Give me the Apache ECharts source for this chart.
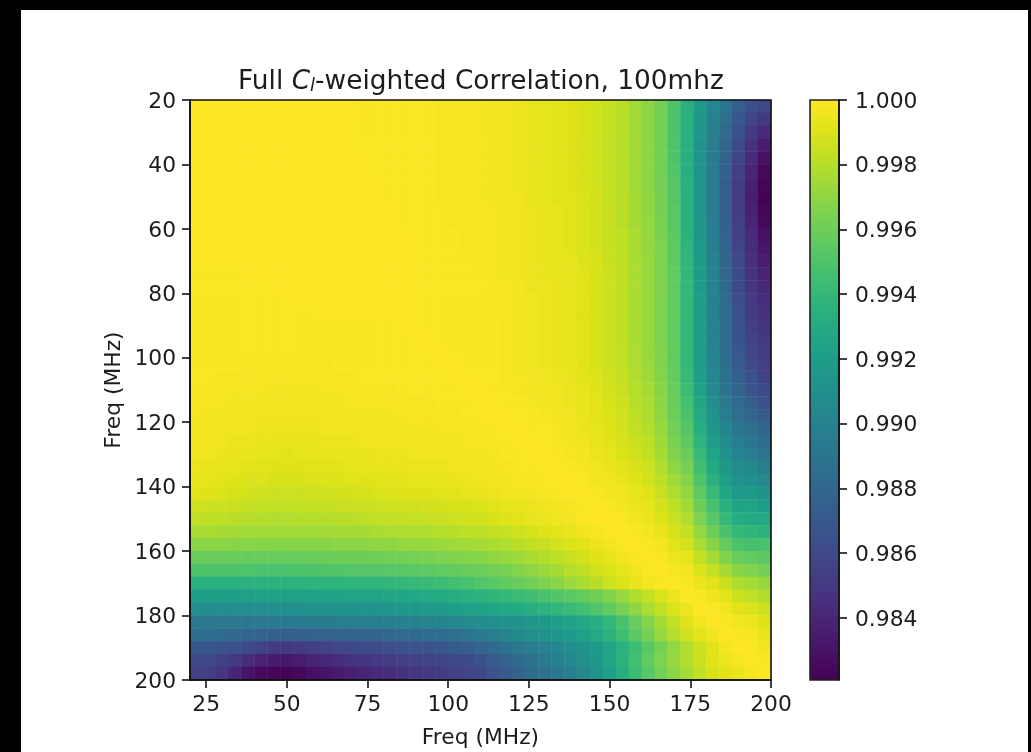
<!DOCTYPE html>
<html><head><meta charset="utf-8">
<script src="https://cdn.jsdelivr.net/npm/echarts@6/dist/echarts.min.js"></script>
<style>html,body{margin:0;padding:0;background:#fff}#c{width:1031px;height:752px}</style>
</head><body><div id="c"></div>
<script>
const freqs = [22,26,30,34,38,42,46,50,54,58,62,66,70,74,78,82,86,90,94,98,102,106,110,114,118,122,126,130,134,138,142,146,150,154,158,162,166,170,174,178,182,186,190,194,198];
const xTicks = [25,50,75,100,125,150,175,200];
const yTicks = [20,40,60,80,100,120,140,160,180,200];
const barTicks = [0.984,0.986,0.988,0.990,0.992,0.994,0.996,0.998,1.000];
const colorMin = 0.98208, colorMax = 1.0;
// Correlation shortfall from 1, in units of 1e-4.
// upperColumns[j][i]: column at freqs[j], rows freqs[0..j]. Empty tail means 0.
const upperColumns = [
[],[],[],[],[],[],[],[],[],[],[],[],[],
[1,1,1,1],
[1,1,1,1,1,1],
[1,1,1,1,1,1,1,1],
[1,1,1,1,1,1,1,1,1,1],
[1,1,1,1,1,1,1,1,1,1,1,1,1,1,1,1,1,0],
[1,1,1,1,1,1,1,1,1,1,1,1,1,1,1,1,1,1,0],
[2,2,2,2,2,2,2,2,1,1,1,1,1,1,1,1,1,1,1,0],
[2,2,2,2,2,2,2,2,2,2,1,1,1,1,1,1,1,1,1,1,0],
[2,2,2,2,2,2,2,2,2,2,2,2,1,1,1,1,1,1,1,1,1,0],
[2,2,2,2,2,2,2,2,2,2,2,2,2,1,1,1,1,1,1,1,1,1,0],
[3,3,3,3,3,3,3,3,2,2,2,2,2,2,2,2,2,1,1,1,1,1,1,0],
[4,4,4,4,4,4,3,3,3,3,3,3,3,3,2,2,2,2,2,2,2,2,1,1,0],
[5,5,5,5,5,5,5,4,4,4,4,4,4,4,3,3,3,3,3,3,3,2,2,1,1,0],
[6,6,6,6,6,6,6,6,5,5,5,5,5,5,5,4,4,4,4,4,4,3,3,2,1,1,0],
[7,7,7,7,7,7,7,7,6,6,6,6,6,6,5,5,5,5,5,5,5,4,3,3,2,1,1,0],
[8,8,8,8,8,8,8,8,7,7,7,7,7,6,6,6,6,6,6,6,6,5,4,4,3,2,2,1,0],
[9,9,9,9,9,9,9,8,8,8,8,8,7,7,7,7,7,7,7,7,6,6,5,5,4,3,3,2,1,0],
[11,11,11,11,11,11,11,10,10,10,10,10,10,9,9,9,9,9,9,9,9,8,7,6,6,5,4,3,2,1,0],
[13,13,13,13,13,13,13,12,12,12,12,12,11,11,11,11,11,11,11,11,11,10,9,8,8,7,6,5,4,3,1,0],
[16,16,16,16,16,16,16,16,15,15,15,15,15,14,14,14,14,14,14,14,14,13,12,11,10,9,8,7,6,4,3,1,0],
[20,20,20,20,20,20,19,19,19,19,18,18,18,18,18,18,18,18,18,17,17,16,15,14,13,12,11,10,8,6,4,3,1,0],
[25,25,25,25,25,25,25,24,24,24,23,23,23,23,23,23,23,23,23,22,22,21,20,19,18,17,15,13,11,9,7,5,3,1,0],
[31,31,31,31,31,31,31,30,30,29,29,29,28,28,28,28,28,28,28,28,27,26,24,23,22,20,18,16,14,12,9,7,5,3,1,0],
[38,38,38,38,38,38,38,37,37,36,36,35,35,35,35,35,35,35,35,34,34,33,32,31,30,28,26,24,21,18,15,12,9,6,3,1,0],
[50,50,50,50,50,49,48,48,47,47,46,45,45,44,44,44,44,44,44,44,44,43,42,41,40,38,36,34,30,26,22,18,15,11,8,5,2,0],
[66,66,66,66,67,67,66,66,66,65,64,63,62,61,60,60,60,60,60,60,60,59,57,54,51,48,45,41,37,33,29,25,21,16,12,7,3,1,0],
[82,84,85,86,86,86,86,86,86,85,84,83,82,81,81,80,80,80,80,80,80,79,77,74,71,67,63,59,55,50,45,40,35,29,23,16,10,5,1,0],
[97,100,102,104,105,105,105,105,105,104,103,102,101,100,100,99,99,99,99,98,98,97,95,92,88,84,80,75,70,65,59,53,47,40,32,24,16,9,4,1,0],
[110,114,118,121,123,125,126,126,126,125,124,122,121,120,119,118,117,116,116,116,115,113,111,107,103,98,94,89,84,79,73,66,59,52,43,34,24,15,8,4,1,0],
[126,131,135,139,143,146,147,147,147,146,145,143,141,139,138,137,135,134,133,131,128,125,122,118,114,109,104,98,94,89,83,76,68,60,51,42,32,22,14,8,4,1,0],
[135,143,149,154,158,161,163,164,163,161,158,156,155,153,151,149,148,146,144,142,138,135,132,126,120,114,109,103,96,90,82,75,70,62,53,44,34,25,17,10,5,2,1,0],
[140,150,158,165,171,175,177,178,177,175,171,168,165,162,159,156,154,152,150,148,146,144,141,135,128,122,116,110,102,96,88,80,72,64,52,46,38,28,21,14,9,6,3,1,0]
];
// lowerRows[i][j]: row at freqs[i], columns freqs[0..i-1]. Empty tail means 0.
const lowerRows = [
[],[],[],[],[],[],[],[],[],[],[],[],[],
[1,1,1,1],
[1,1,1,1,1,1],
[1,1,1,1,1,1,1,1],
[1,1,1,1,1,1,1,1,1,1],
[1,1,1,1,1,1,1,1,1,1,1,1,1,1,1,1],
[1,1,1,1,1,1,1,1,1,1,1,1,1,1,1,1,1,0],
[1,1,1,1,1,1,1,1,1,1,1,1,1,1,1,1,1,1,0],
[1,1,1,1,2,2,2,2,2,2,2,1,1,1,1,1,1,1,1,0],
[1,1,2,2,2,2,2,2,2,2,2,2,2,1,1,1,1,1,1,1,0],
[2,2,2,2,2,2,3,3,3,3,2,2,2,2,2,2,1,1,1,1,1,0],
[2,2,2,3,3,3,3,3,3,3,3,3,2,2,2,2,2,2,2,1,1,1,0],
[2,3,3,3,4,4,4,4,4,4,4,3,3,3,3,3,2,2,2,2,2,1,1,0],
[3,3,3,4,4,5,5,5,5,5,4,4,4,4,3,3,3,3,3,2,2,2,1,1,0],
[3,4,4,5,5,6,6,6,6,6,5,5,5,4,4,4,4,3,3,3,3,2,2,1,1,0],
[4,4,5,6,6,7,7,8,7,7,7,6,6,6,5,5,5,4,4,4,3,3,3,2,1,1,0],
[5,6,6,7,8,8,9,9,9,8,8,8,7,7,6,6,6,5,5,5,4,4,3,3,2,1,1,0],
[6,7,8,9,10,10,11,11,11,10,10,10,9,9,8,8,8,7,7,6,6,5,4,4,3,2,2,1,0],
[8,9,10,11,12,13,14,14,14,13,13,12,12,11,10,10,9,9,9,8,8,7,6,5,4,3,3,2,1,0],
[13,14,14,15,16,16,17,17,16,16,16,15,15,14,14,13,13,13,12,12,11,11,10,8,7,6,5,4,3,2,1],
[17,18,18,19,20,20,21,21,20,20,20,19,19,18,17,17,16,16,15,15,14,13,13,11,9,8,6,5,4,3,1,0],
[23,23,24,24,25,25,25,25,25,25,25,24,24,24,23,22,22,21,21,20,19,18,18,16,15,13,11,9,8,6,4,2,1],
[31,31,31,32,32,32,33,33,32,32,32,31,31,31,30,30,29,28,28,27,26,25,24,23,21,19,17,15,12,10,8,5,3,1],
[41,41,41,41,42,42,42,42,41,41,41,40,40,40,39,38,38,37,36,35,34,33,32,30,28,26,23,20,18,15,12,9,7,4,1],
[50,50,50,50,50,51,51,51,50,50,49,49,48,48,48,47,47,46,45,44,43,41,40,38,36,33,30,27,24,20,17,13,10,7,4,1],
[66,66,66,66,65,65,65,64,64,63,63,63,62,62,62,61,60,59,58,56,54,52,49,47,44,41,38,35,31,27,23,19,14,10,6,3,1],
[79,79,79,79,79,78,78,77,77,77,76,76,75,75,75,74,73,72,71,70,68,66,64,62,60,58,55,52,49,46,43,39,34,28,22,16,10,5],
[92,92,92,91,91,91,90,90,90,89,89,88,88,88,87,86,85,84,83,82,80,78,76,74,72,70,67,64,61,58,54,49,44,37,30,23,16,10,5],
[107,107,107,107,107,107,106,106,106,105,105,104,104,103,103,102,101,100,99,98,96,94,92,91,89,87,85,82,79,76,72,67,61,52,42,33,24,16,9,4],
[115,116,117,119,121,123,125,126,125,124,123,122,121,121,120,119,118,117,116,115,113,110,106,102,98,94,91,88,85,81,77,71,64,55,46,37,28,20,13,8,4],
[130,131,133,136,140,144,148,150,148,146,144,142,140,139,138,137,135,134,133,132,129,126,122,117,112,107,104,100,97,92,88,82,75,65,56,46,37,29,21,14,8,3],
[140,141,145,150,157,162,166,168,165,162,159,156,153,151,149,148,146,145,144,143,140,138,135,129,123,117,111,106,101,96,91,84,74,64,54,44,35,28,21,15,9,5,2],
[144,146,152,160,169,174,177,178,175,172,169,166,163,160,158,156,154,152,150,148,145,143,140,134,128,122,116,112,107,102,96,88,78,68,57,47,38,31,24,17,11,8,5,2]
];
const viridis = ['#440154','#471365','#482475','#463480','#414487','#3b528b','#355f8d','#2f6c8e','#2a788e','#25848e','#21918c','#1e9c89','#22a884','#2fb47c','#44bf70','#5ec962','#7ad151','#9bd93c','#bddf26','#dfe318','#fde725'];

const cells = [];
freqs.forEach((_, i) => freqs.forEach((_, j) => {
  const raw = j >= i ? upperColumns[j][i] : lowerRows[i][j];
  cells.push([j, i, 1 - (raw ?? 0) / 10000]);
}));
const font = 'DejaVu Sans';
const ink = '#1c1c1c';
const lineStyle = {color:'#111', width:1.6};
const tickStyle = {show:true, length:8, lineStyle};
const labelStyle = {fontFamily:font, fontSize:21.8, color:ink};
const plotRect = {left:190, top:100, width:581, height:580, outerBoundsMode:'none'};
const chart = echarts.init(document.getElementById('c'), null, {renderer:'canvas'});
chart.setOption({
  animation:false,
  backgroundColor:'#fff',
  title:{
    left:476, top:64, textAlign:'center',
    text:'Full {i|C}{s|l}-weighted Correlation, 100mhz',
    textStyle:{fontFamily:font, fontSize:26.4, fontWeight:'normal', color:ink,
      rich:{
        i:{fontFamily:font, fontStyle:'italic', fontSize:26.4, color:ink},
        s:{fontFamily:font, fontStyle:'italic', fontSize:18, color:ink, verticalAlign:'bottom', padding:[8,0,0,0]}
      }}
  },
  grid:[
    Object.assign({show:true, backgroundColor:'transparent', borderColor:'#111', borderWidth:1.6, z:6}, plotRect),
    {left:810, top:100, width:29, height:580, outerBoundsMode:'none', show:true, backgroundColor:'transparent', borderColor:'#222', borderWidth:1.6, z:6},
    Object.assign({show:false}, plotRect),
    Object.assign({show:false}, plotRect)
  ],
  xAxis:[
    {type:'category', gridIndex:0, data:freqs, show:false},
    {type:'value', gridIndex:2, min:20, max:200, position:'bottom', z:7, splitLine:{show:false},
     axisLine:{show:true, onZero:false, lineStyle}, axisTick:Object.assign({customValues:xTicks}, tickStyle),
     axisLabel:Object.assign({customValues:xTicks, margin:14}, labelStyle)},
    {type:'value', gridIndex:1, show:false, min:0, max:1},
    {type:'value', gridIndex:3, min:20, max:200, position:'bottom', splitLine:{show:false},
     axisLine:{show:false}, axisTick:{show:false}, axisLabel:{show:false},
     name:'Freq (MHz)', nameLocation:'middle', nameGap:47, nameTextStyle:labelStyle}
  ],
  yAxis:[
    {type:'category', gridIndex:0, data:freqs, inverse:true, show:false},
    {type:'value', gridIndex:2, min:20, max:200, inverse:true, position:'left', z:7, splitLine:{show:false},
     axisLine:{show:true, onZero:false, lineStyle}, axisTick:Object.assign({customValues:yTicks}, tickStyle),
     axisLabel:Object.assign({customValues:yTicks, margin:14, verticalAlign:'top', lineHeight:4}, labelStyle)},
    {type:'value', gridIndex:1, min:colorMin, max:colorMax, position:'right', z:7, splitLine:{show:false},
     axisLine:{show:true, onZero:false, lineStyle}, axisTick:Object.assign({customValues:barTicks}, tickStyle),
     axisLabel:Object.assign({customValues:barTicks, margin:16, verticalAlign:'top', lineHeight:4, formatter:v=>v.toFixed(3)}, labelStyle)},
    {type:'value', gridIndex:3, min:20, max:200, inverse:true, position:'left', splitLine:{show:false},
     axisLine:{show:false}, axisTick:{show:false}, axisLabel:{show:false},
     name:'Freq (MHz)', nameLocation:'middle', nameGap:65, nameTextStyle:labelStyle}
  ],
  visualMap:{
    type:'continuous', seriesIndex:0, min:colorMin, max:colorMax, calculable:false,
    left:810, top:100, itemWidth:29, itemHeight:580, padding:0, text:null, showLabel:false,
    inRange:{color:viridis}
  },
  series:[{type:'heatmap', xAxisIndex:0, yAxisIndex:0, data:cells, progressive:0, itemStyle:{borderWidth:0}, emphasis:{disabled:true}}],
  graphic:[
    {type:'rect', silent:true, z:100, shape:{x:0,y:0,width:1031,height:10}, style:{fill:'#000'}},
    {type:'rect', silent:true, z:100, shape:{x:0,y:0,width:21,height:752}, style:{fill:'#000'}},
    {type:'rect', silent:true, z:100, shape:{x:1028,y:0,width:3,height:752}, style:{fill:'#000'}}
  ]
});
</script></body></html>
